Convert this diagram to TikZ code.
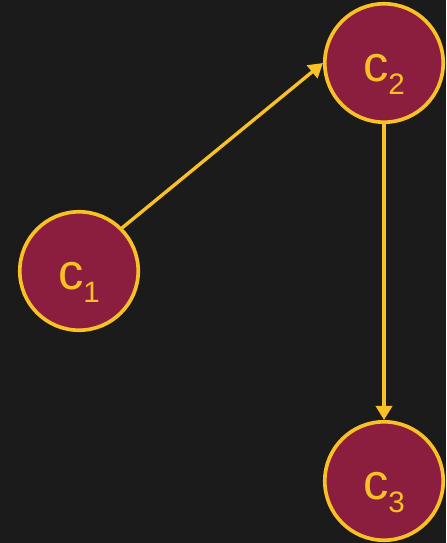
\documentclass[tikz,border=0pt]{standalone}
\usepackage{fontspec}
\setmainfont{Liberation Sans}
\usetikzlibrary{arrows.meta,positioning}
\definecolor{chainbg}{RGB}{27,27,27}
\definecolor{chainfill}{RGB}{139,30,63}
\definecolor{chainline}{RGB}{250,193,36}
\newcommand{\csub}[1]{c\raisebox{-9pt}{\fontsize{21pt}{21pt}\selectfont #1}}
\tikzset{
  cnode/.style={circle,draw=chainline,fill=chainfill,line width=2.6pt,
                minimum size=2.96cm,inner sep=0pt,text=chainline,
                font=\fontsize{36pt}{36pt}\selectfont,text height=27pt,text depth=0pt},
  link/.style={-{Triangle[length=10pt,width=11.5pt]},draw=chainline,line width=2.4pt},
}
\begin{document}
\begin{tikzpicture}[x=0.025cm,y=-0.025cm]
% background
\fill[chainbg] (0,0) rectangle (446,543);
\useasboundingbox (0,0) rectangle (446,543);
% nodes
\node[cnode] (c1) at (79,271) {\csub{1}};
\node[cnode] (c2) at (384,63) {\csub{2}};
\node[cnode] (c3) at (384,481) {\csub{3}};
% edges
\draw[link] (c1.north east) -- (c2.west);
\draw[link] (c2.south) -- (c3.north);
\end{tikzpicture}
\end{document}
